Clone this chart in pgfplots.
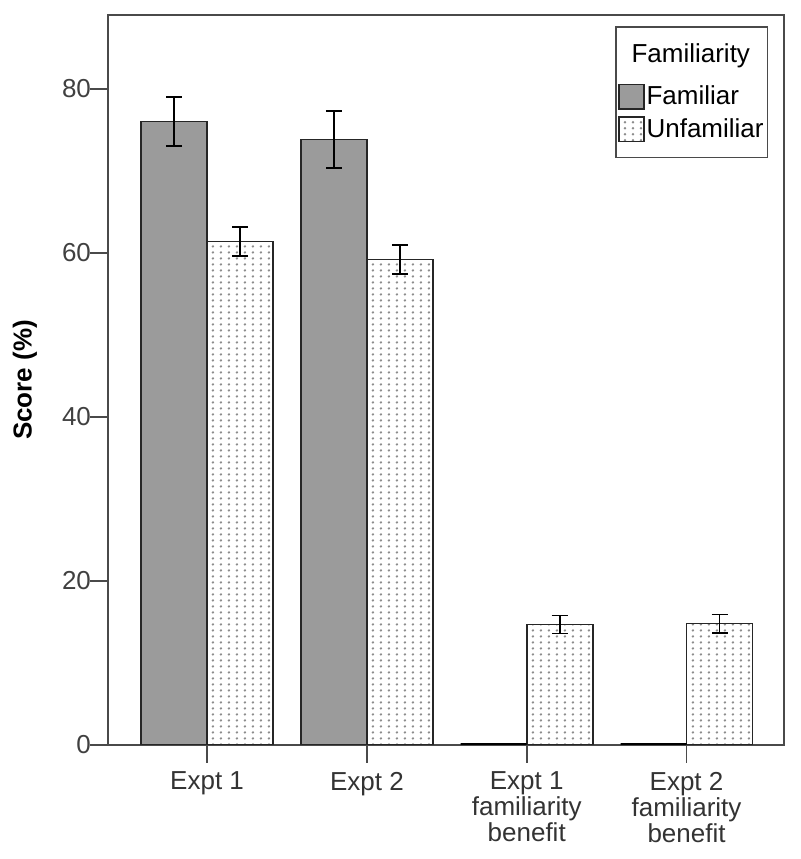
\documentclass[border=0pt]{standalone}
\usepackage{fontspec}
\setmainfont{Liberation Sans}
\usepackage{pgfplots}
\pgfplotsset{compat=1.18}
\usetikzlibrary{patterns.meta}
\definecolor{famgray}{HTML}{9B9B9B}
\definecolor{axisgray}{HTML}{4A4A4A}
\definecolor{dotgray}{HTML}{8C8C8C}
% dotted fill of the "Unfamiliar" bars: wider in x than in y
\pgfdeclarepattern{
  name=spssdots, type=uncolored,
  bottom left={\pgfpoint{0pt}{0pt}}, top right={\pgfpoint{4.2pt}{2.8pt}},
  tile size={\pgfpoint{4.2pt}{2.8pt}},
  code={\pgfpathcircle{\pgfpoint{2.1pt}{1.4pt}}{0.7pt}\pgfusepath{fill}}
}
\begin{document}
\begin{tikzpicture}[font=\fontsize{13}{13}\selectfont]
\begin{axis}[
  scale only axis, width=338pt, height=365pt,
  ybar=0pt, bar width=33pt,
  xmin=-0.62, xmax=3.61, ymin=0, ymax=89,
  xtick={0,1,2,3},
  xticklabels={Expt 1, Expt 2, Expt 1\\familiarity\\benefit, Expt 2\\familiarity\\benefit},
  xticklabel style={align=center, text=black!80, yshift=-1pt},
  ytick={0,20,40,60,80},
  yticklabel style={text=black!75, xshift=4pt},
  /pgf/number format/assume math mode=true,
  xtick pos=bottom, ytick pos=left,
  tick align=outside, major tick length=9pt,
  tick style={axisgray, line width=0.9pt},
  axis line style={axisgray, line width=1pt},
  ylabel={Score (\%)},
  every axis y label/.style={at={(axis description cs:0,0.5)}, xshift=-41.5pt,
    rotate=90, anchor=center, font=\fontsize{13}{13}\selectfont\bfseries},
  legend style={at={(0.977,0.985)}, anchor=north east, draw=axisgray,
    line width=0.9pt, cells={anchor=west}, row sep=3pt,
    inner xsep=1pt, inner ysep=7.5pt,
    nodes={inner sep=1pt},
    font=\fontsize{13}{13}\selectfont},
  legend image code/.code={\draw[#1, line width=0.8pt] (0pt,-6.2pt) rectangle (12.5pt,6.2pt);},
  error bars/y dir=both, error bars/y explicit,
  error bars/error mark options={rotate=90, mark size=4pt, line width=0.9pt, black},
  error bars/error bar style={line width=0.9pt, black},
]
\addlegendimage{empty legend}
\addlegendentry[text depth=6.5pt]{\hspace*{-7.5pt}Familiarity}
\addplot[fill=famgray, draw=black!85, line width=0.8pt, bar shift=-16.5pt] coordinates {
  (0,76.0) +- (0,3.0)
  (1,73.8) +- (0,3.5)
};
\addlegendentry{Familiar}
\addplot[pattern=spssdots, pattern color=dotgray, draw=black!85, line width=0.8pt, bar shift=16.5pt] coordinates {
  (0,61.4) +- (0,1.8)
  (1,59.2) +- (0,1.8)
  (2,14.7) +- (0,1.1)
  (3,14.8) +- (0,1.1)
};
\addlegendentry{Unfamiliar\rule[-4pt]{0pt}{4pt}}
% familiar bars of height zero for the two benefit categories
\addplot[forget plot, fill=famgray, draw=black, line width=1.5pt, bar shift=-16.5pt,
  error bars/y dir=none] coordinates {(2,0) (3,0)};
\end{axis}
\path (current axis.south west) ++(-54pt,-57pt) (current axis.north east) ++(8pt,7.5pt);
\end{tikzpicture}
\end{document}
